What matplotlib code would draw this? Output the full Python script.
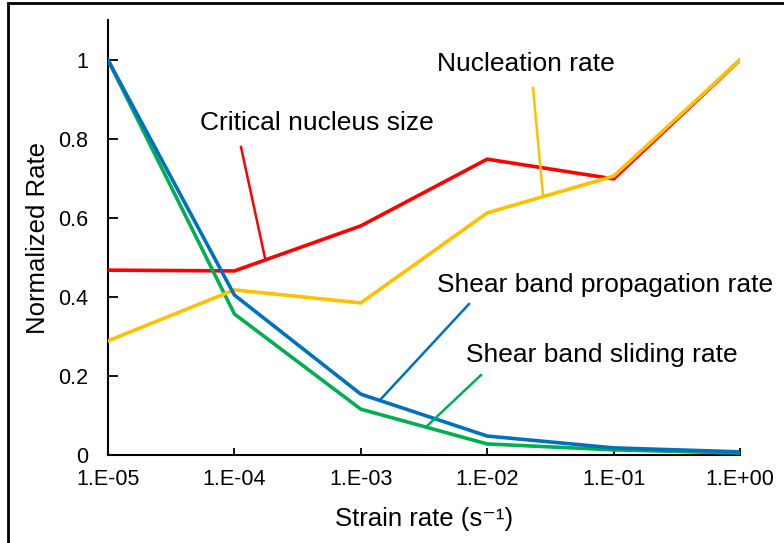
import numpy as np
import matplotlib
matplotlib.use("Agg")
import matplotlib.pyplot as plt
from matplotlib.patches import Rectangle
from matplotlib.lines import Line2D

plt.rcParams["font.family"] = ["Liberation Sans", "DejaVu Sans"]

strain_rate = [1e-5, 1e-4, 1e-3, 1e-2, 1e-1, 1e0]
tick_labels = ["1.E-05", "1.E-04", "1.E-03", "1.E-02", "1.E-01", "1.E+00"]

critical_nucleus = [0.468, 0.466, 0.580, 0.749, 0.699, 1.0]
nucleation = [0.289, 0.418, 0.385, 0.613, 0.706, 1.0]
propagation = [1.0, 0.405, 0.154, 0.048, 0.018, 0.008]
sliding = [1.0, 0.357, 0.116, 0.028, 0.013, 0.005]

RED = "#FF0000"
YELLOW = "#FFC000"
BLUE = "#0070C0"
GREEN = "#00B050"

W, H = 784, 543
fig = plt.figure(figsize=(W / 100, H / 100), dpi=100)
ax = fig.add_axes([108 / W, 1 - 455 / H, 632 / W, (455 - 20.5) / H])

lw = 2.6
ax.plot(strain_rate, critical_nucleus, color=RED, lw=lw, zorder=3)
ax.plot(strain_rate, nucleation, color=YELLOW, lw=lw, zorder=4)
ax.plot(strain_rate, sliding, color=GREEN, lw=lw, zorder=3)
ax.plot(strain_rate, propagation, color=BLUE, lw=lw, zorder=4)

ax.set_xscale("log")
ax.set_xlim(1e-5, 1e0)
ax.set_ylim(0, 1.1)
ax.set_xticks(strain_rate)
ax.set_xticklabels(tick_labels)
ax.minorticks_off()
ax.set_yticks([0, 0.2, 0.4, 0.6, 0.8, 1.0])
ax.set_yticklabels(["0", "0.2", "0.4", "0.6", "0.8", "1"])
ax.tick_params(axis="y", direction="in", length=7, width=1.3, labelsize=15.5, pad=14)
ax.tick_params(axis="x", direction="in", length=5, width=1.3, labelsize=15.5, pad=10)

for side in ("top", "right"):
    ax.spines[side].set_visible(False)
for side in ("left", "bottom"):
    ax.spines[side].set_linewidth(1.5)

ax.set_xlabel("Strain rate (s\u207b\u00b9)", fontsize=18.5, labelpad=12)
ax.set_ylabel("Normalized Rate", fontsize=18.5, labelpad=6)


def fpos(px, py):
    # pixel position (from top-left) to figure fraction
    return px / W, 1 - py / H


# series labels with leader lines
def label(text, txy, start, end, color):
    (x0, y0), (x1, y1) = fpos(*start), fpos(*end)
    fig.lines.append(Line2D([x0, x1], [y0, y1], transform=fig.transFigure,
                            color=color, lw=1.8, zorder=5))
    tx, ty = fpos(*txy)
    fig.text(tx, ty, text, fontsize=19, ha="left", va="center")


label("Critical nucleus size", (200, 123), (241, 147), (265, 258), RED)
label("Nucleation rate", (437, 64), (533, 88), (543, 195), YELLOW)
label("Shear band propagation rate", (437, 285), (469, 304), (380, 400), BLUE)
label("Shear band sliding rate", (466, 355), (481, 375), (427, 426), GREEN)

# outer frame
fig.patches.append(Rectangle((8 / W, -0.01), 1.0, 1 - 3 / H + 0.01,
                             transform=fig.transFigure, fill=False,
                             edgecolor="black", lw=2.0))

fig.savefig("out.png", dpi=100)
